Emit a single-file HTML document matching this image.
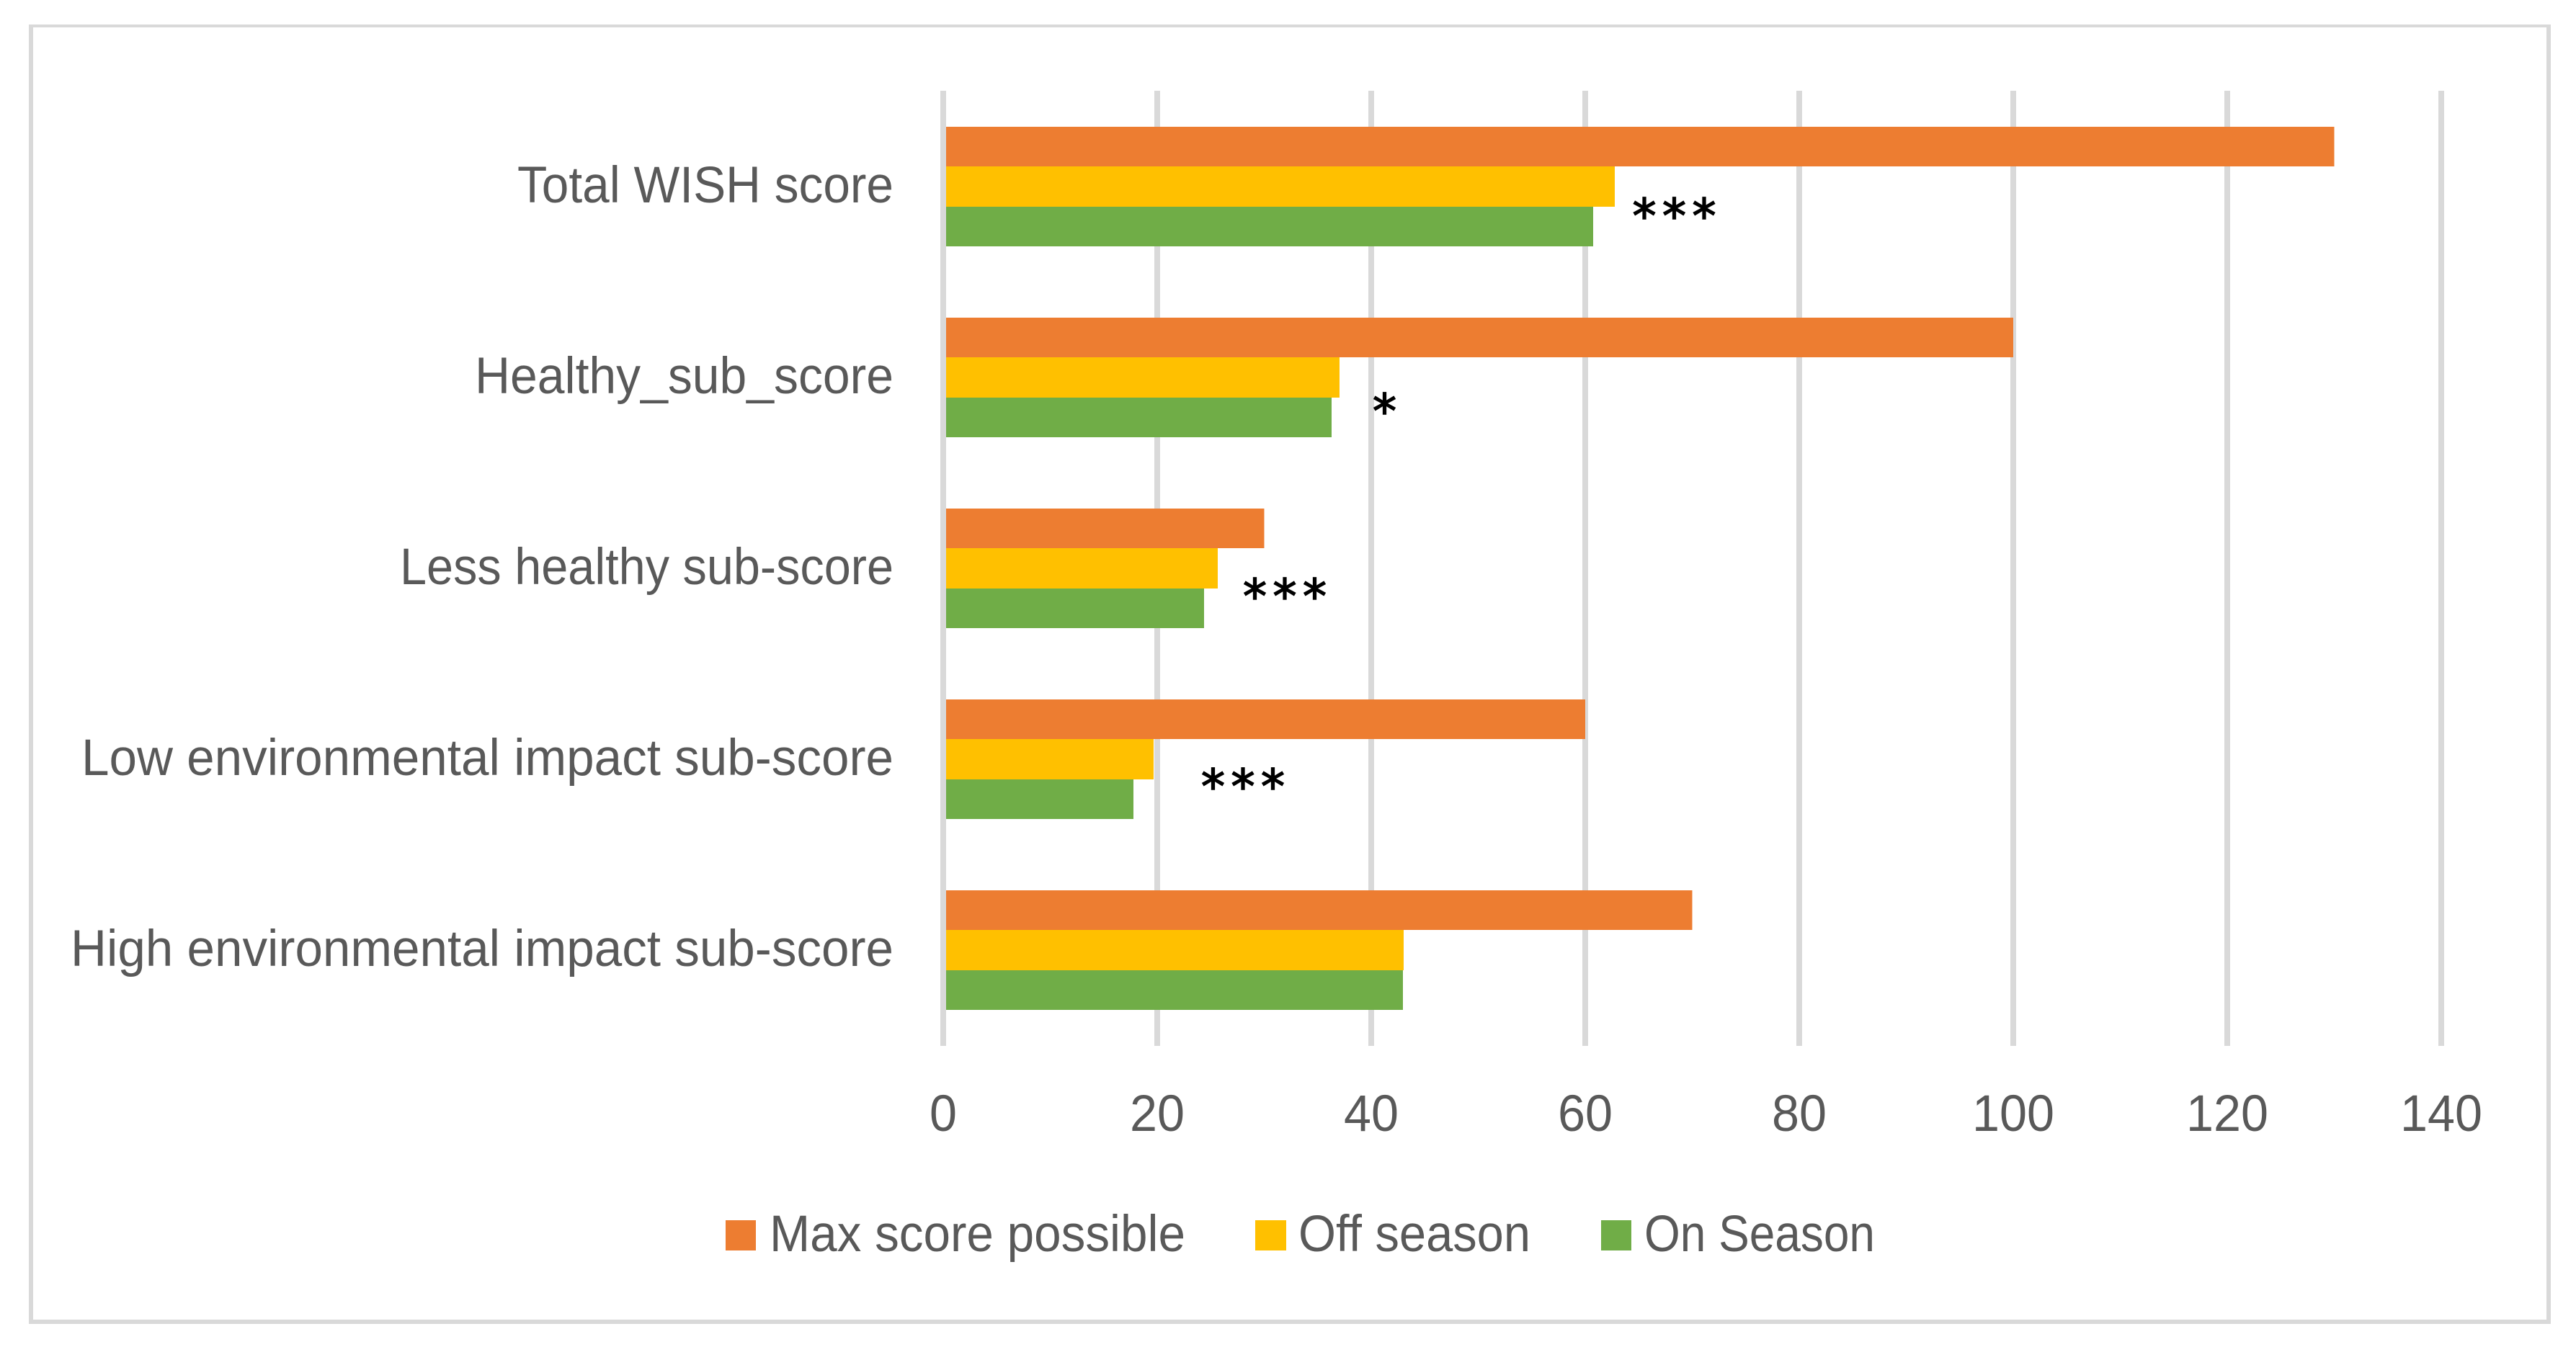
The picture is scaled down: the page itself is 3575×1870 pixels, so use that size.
<!DOCTYPE html>
<html lang="en">
<head>
<meta charset="utf-8">
<title>WISH score by season</title>
<style>
html,body{margin:0;padding:0;background:#fff;}
svg{display:block;}
text{font-family:"Liberation Sans",sans-serif;fill:#595959;font-size:71px;}
text.star{font-family:"DejaVu Sans",sans-serif;fill:#000;font-size:66px;letter-spacing:8.5px;stroke:#000;stroke-width:1.6px;}
</style>
</head>
<body>
<svg id="chart" xmlns="http://www.w3.org/2000/svg" width="3575" height="1870" viewBox="0 0 3575 1870">
  <rect x="0" y="0" width="3575" height="1870" fill="#ffffff"/>
  <g fill="#d9d9d9" shape-rendering="crispEdges">
    <rect x="40" y="34" width="3500" height="4"/>
    <rect x="40" y="34" width="6" height="1804"/>
    <rect x="3534" y="34" width="6" height="1804"/>
    <rect x="40" y="1832" width="3500" height="6"/>
  </g>
  <g id="grid"></g>
  <g id="bars"></g>
  <g id="axis"></g>
  <g id="xlabels"></g>
  <g id="ylabels"></g>
  <g>
    <text class="star" x="2265.5" y="323">***</text>
    <text class="star" x="1905" y="594">*</text>
    <text class="star" x="1725" y="851">***</text>
    <text class="star" x="1667" y="1115">***</text>
  </g>
  <g>
    <rect x="1007" y="1694" width="42" height="42" fill="#ed7d31" shape-rendering="crispEdges"/>
    <text x="1068" y="1737" textLength="577" lengthAdjust="spacingAndGlyphs">Max score possible</text>
    <rect x="1742" y="1694" width="43" height="42" fill="#ffc000" shape-rendering="crispEdges"/>
    <text x="1802" y="1737" textLength="322" lengthAdjust="spacingAndGlyphs">Off season</text>
    <rect x="2222" y="1694" width="42" height="42" fill="#70ad47" shape-rendering="crispEdges"/>
    <text x="2282" y="1737" textLength="320" lengthAdjust="spacingAndGlyphs">On Season</text>
  </g>
</svg>
<script>
const categories = ["Total WISH score", "Healthy_sub_score", "Less healthy sub-score", "Low environmental impact sub-score", "High environmental impact sub-score"];
const maxScore = [130, 100, 30, 60, 70];
const offSeason = [62.76, 37.04, 25.66, 19.66, 43.03];
const onSeason = [60.74, 36.3, 24.38, 17.78, 42.95];
const tickValues = [0, 20, 40, 60, 80, 100, 120, 140];
const labelLengths = [522, 581, 685, 1127, 1142];

const NS = "http://www.w3.org/2000/svg";
const plotTop = 126, plotBottom = 1452, zeroX = 1309, unitPx = 14.85;
const barHeight = 55.3;

function xScale(v) { return zeroX + v * unitPx; }
function bandCenter(i) { return 259 + i * 265; }
function make(tag, parentId) {
  const el = document.createElementNS(NS, tag);
  document.getElementById(parentId).appendChild(el);
  return el;
}
function slug(s) { return s.toLowerCase().replace(/[^a-z0-9]+/g, "-"); }

tickValues.forEach(function (t) {
  if (t === 0) return;
  const line = make("rect", "grid");
  
  
  line.setAttribute("x", xScale(t) - 4);
  line.setAttribute("y", plotTop);
  line.setAttribute("width", 8);
  line.setAttribute("height", plotBottom - plotTop);
  line.setAttribute("fill", "#d9d9d9");
  line.setAttribute("shape-rendering", "crispEdges");
});

function drawSeries(values, color, offset, name) {
  values.forEach(function (v, i) {
    const bar = make("rect", "bars");
    
    
    bar.setAttribute("data-series", name);
    bar.setAttribute("data-category", slug(categories[i]));
    bar.setAttribute("x", xScale(0));
    bar.setAttribute("y", Math.round(bandCenter(i) + (offset - 1.5) * barHeight));
    bar.setAttribute("width", xScale(v) - xScale(0));
    bar.setAttribute("height", Math.round(bandCenter(i) + (offset - 0.5) * barHeight) - Math.round(bandCenter(i) + (offset - 1.5) * barHeight));
    bar.setAttribute("fill", color);
    bar.setAttribute("shape-rendering", "crispEdges");
  });
}
drawSeries(maxScore, "#ed7d31", 0, "max-score-possible");
drawSeries(offSeason, "#ffc000", 1, "off-season");
drawSeries(onSeason, "#70ad47", 2, "on-season");

const zeroLine = make("rect", "axis");


zeroLine.setAttribute("x", xScale(0) - 4);
zeroLine.setAttribute("y", plotTop);
zeroLine.setAttribute("width", 8);
zeroLine.setAttribute("height", plotBottom - plotTop);
zeroLine.setAttribute("fill", "#d9d9d9");
zeroLine.setAttribute("shape-rendering", "crispEdges");

tickValues.forEach(function (t) {
  const label = make("text", "xlabels");
  
  
  label.setAttribute("x", xScale(t));
  label.setAttribute("y", 1570);
  label.setAttribute("text-anchor", "middle");
  label.setAttribute("textLength", String(t).length * 38);
  label.setAttribute("lengthAdjust", "spacingAndGlyphs");
  label.textContent = t;
});

categories.forEach(function (c, i) {
  const label = make("text", "ylabels");
  
  
  label.setAttribute("x", 1240);
  label.setAttribute("y", bandCenter(i) + 22);
  label.setAttribute("text-anchor", "end");
  label.setAttribute("textLength", labelLengths[i]);
  label.setAttribute("lengthAdjust", "spacingAndGlyphs");
  label.textContent = c;
});
</script>
</body>
</html>
